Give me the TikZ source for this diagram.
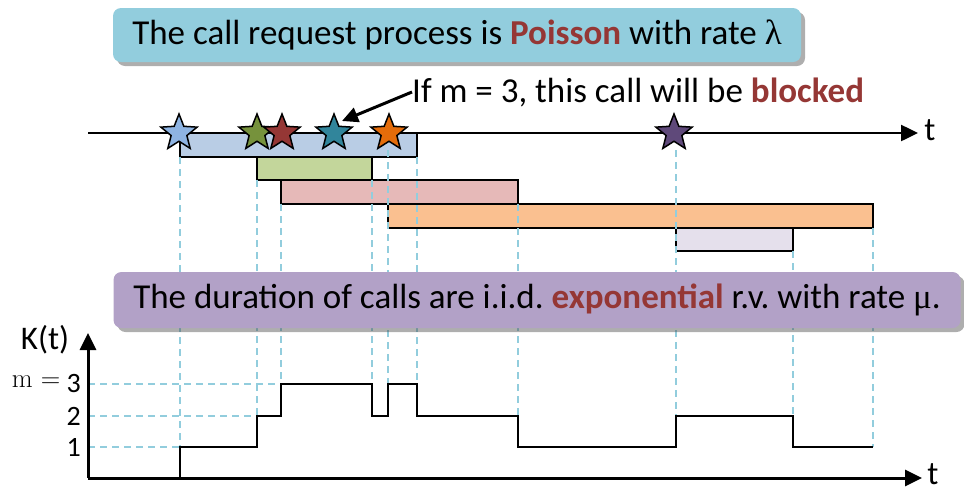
\documentclass[tikz,border=0pt]{standalone}
\usepackage{fontspec}
\setmainfont{Carlito}
\newfontfamily\symserif{Liberation Serif}
\newfontfamily\lmr{Latin Modern Roman}
\frenchspacing
\usetikzlibrary{arrows.meta,shapes.geometric,shadows}

\definecolor{poissonbg}{RGB}{146,205,221}
\definecolor{durationbg}{RGB}{178,161,199}
\definecolor{keyword}{RGB}{149,55,53}
\definecolor{guide}{RGB}{146,205,221}
\definecolor{cblue}{RGB}{142,180,227}
\definecolor{cgreen}{RGB}{118,146,60}
\definecolor{cred}{RGB}{149,55,53}
\definecolor{cteal}{RGB}{49,133,155}
\definecolor{corange}{RGB}{228,108,10}
\definecolor{cpurple}{RGB}{95,73,122}
\definecolor{bblue}{RGB}{185,205,229}
\definecolor{bgreen}{RGB}{195,214,155}
\definecolor{bred}{RGB}{230,185,184}
\definecolor{borange}{RGB}{250,192,144}
\definecolor{bpurple}{RGB}{229,224,236}

\begin{document}
\begin{tikzpicture}[x=1pt,y=-1pt]
	\tikzstyle{banner}=[rounded corners=8pt, inner sep=0pt, font=\fontsize{35}{40}\selectfont,
		drop shadow={shadow xshift=4pt, shadow yshift=-4pt, fill=black!70, opacity=0.45}]
	\tikzstyle{bar}=[draw, line width=2pt]
	\tikzstyle{guideline}=[guide, line width=2pt, dash pattern=on 7pt off 5pt]
	\tikzstyle{axis}=[line width=2.5pt, -{Triangle[length=17pt,width=16pt]}]
	\tikzstyle{callstar}=[draw, star, star points=5, star point ratio=2.3, minimum size=38pt,
		inner sep=0pt, line width=1.5pt]
	\tikzstyle{lbl}=[inner sep=0pt, font=\fontsize{28}{32}\selectfont]
	\useasboundingbox (0,0) rectangle (964,491);

	% arrival axis
	\coordinate (arrstart) at (88,133);
	\coordinate (arrend) at (918,133);
	\draw[axis] (arrstart) -- (arrend);
	\node[lbl, font=\fontsize{33}{36}\selectfont] (tarr) at (930,130) {t};

	% holding times of the accepted calls
	\draw[bar, fill=bblue] (180,133) rectangle (417,157);
	\draw[bar, fill=bgreen] (257,157) rectangle (372,180);
	\draw[bar, fill=bred] (281,180) rectangle (518,204);
	\draw[bar, fill=borange] (388,204) rectangle (873,228);
	\draw[bar, fill=bpurple] (676,228) rectangle (793,251);

	% guides down to K(t)
	\draw[guideline] (180,157) -- (180,447);
	\draw[guideline] (257,180) -- (257,416);
	\draw[guideline] (281,204) -- (281,384);
	\draw[guideline] (372,180) -- (372,384);
	\draw[guideline] (388,150) -- (388,384);
	\draw[guideline] (417,157) -- (417,384);
	\draw[guideline] (518,204) -- (518,416);
	\draw[guideline] (676,150) -- (676,416);
	\draw[guideline] (793,251) -- (793,416);
	\draw[guideline] (873,228) -- (873,447);
	\draw[guideline] (88,447) -- (180,447);
	\draw[guideline] (88,416) -- (257,416);
	\draw[guideline] (88,384) -- (281,384);

	% call arrivals
	\foreach \x/\c/\n in {179/cblue/s1, 257/cgreen/s2, 282/cred/s3, 334/cteal/s4, 389/corange/s5, 674/cpurple/s6}
		\node[callstar, fill=\c] (\n) at (\x,133) {};

	% blocked call
	\node[anchor=west, inner sep=0pt, font=\fontsize{35}{40}\selectfont] (note) at (412,92)
		{If m = 3, this call will be \textbf{\color{keyword}blocked}};
	\coordinate (blocktip) at (342,121);
	\draw[line width=3pt, -{Triangle[length=16pt,width=15pt]}] (note.west) -- (blocktip);

	% banners
	\node[banner, fill=poissonbg, minimum width=688pt, minimum height=54pt] (poisson) at (457,35)
		{The call request process is \textbf{\color{keyword}Poisson} with rate {\symserif λ}};
	\node[banner, fill=durationbg, minimum width=847pt, minimum height=56pt] (duration) at (537,300)
		{The duration of calls are i.i.d. \textbf{\color{keyword}exponential} r.v. with rate {\symserif μ}.};

	% number of calls in progress
	\coordinate (korigin) at (88,478);
	\coordinate (kxend) at (922,478);
	\coordinate (kyend) at (88,333);
	\draw[axis, line width=3pt] (korigin) -- (kxend);
	\draw[axis, line width=3pt] (korigin) -- (kyend);
	\node[lbl, font=\fontsize{33}{36}\selectfont] (tk) at (933,474) {t};
	\node[lbl, font=\fontsize{33}{36}\selectfont] (kt) at (45,340) {K(t)};
	\node[lbl, anchor=east] (k3) at (81,384) {3};
	\node[lbl, anchor=east] (k2) at (81,416) {2};
	\node[lbl, anchor=east] (k1) at (81,447) {1};
	\node[lbl, anchor=east, font=\lmr\fontsize{27}{30}\selectfont] (meq) at ([xshift=-6pt,yshift=2pt]k3.west) {m =};

	\draw[line width=2.5pt] (180,478) -- (180,447) -- (257,447) -- (257,416) -- (281,416)
		-- (281,384) -- (372,384) -- (372,416) -- (388,416) -- (388,384) -- (417,384)
		-- (417,416) -- (518,416) -- (518,447) -- (676,447) -- (676,416) -- (793,416)
		-- (793,447) -- (873,447);
\end{tikzpicture}
\end{document}
